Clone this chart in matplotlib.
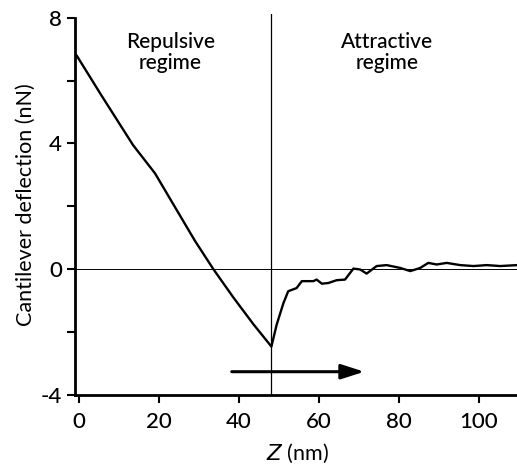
import matplotlib.pyplot as plt
import numpy as np

# repulsive part: linear approach
z_rep = [-0.5, 5.5, 13.5, 19, 29, 33.6, 38.6, 43.6, 48.1]
f_rep = [6.78, 5.55, 3.95, 3.05, 0.9, 0.0, -0.9, -1.75, -2.46]

# attractive part: snap-in and noisy plateau
z_att = [48.1, 49.4, 51.1, 52.3, 54.4, 55.7, 58.6, 59.4, 60.7, 62.3, 64.4, 66.5,
         68.6, 70.3, 71.9, 74.4, 76.9, 80.3, 82.8, 85.3, 87.3, 89.4, 91.9, 95.3,
         98.6, 101.9, 105.3, 109.5]
f_att = [-2.46, -1.77, -1.08, -0.70, -0.60, -0.38, -0.38, -0.33, -0.46, -0.44, -0.35, -0.33,
         0.02, -0.01, -0.14, 0.10, 0.13, 0.04, -0.06, 0.04, 0.20, 0.15, 0.20, 0.13,
         0.10, 0.13, 0.10, 0.13]

x_ticks = [0, 20, 40, 60, 80, 100]
y_ticks = [-4, -2, 0, 2, 4, 6, 8]
y_labels = ['-4', '', '0', '', '4', '', '8']

plt.rcParams['font.family'] = ['Lato', 'DejaVu Sans']

fig = plt.figure(figsize=(5.17, 4.66), dpi=100)
ax = fig.add_axes([0.145, 0.1524, 0.859, 0.8165])

ax.plot(z_rep + z_att[1:], f_rep + f_att[1:], color='black', lw=1.7)
ax.axhline(0, color='black', lw=0.7)
ax.plot([48.1, 48.1], [-4, 8.1], color='black', lw=0.9)

ax.annotate('', xy=(72, -3.26), xytext=(37.5, -3.26),
            arrowprops=dict(arrowstyle='-|>,head_length=1.4,head_width=0.45',
                            color='black', lw=2.2))

ax.text(22.8, 6.9, 'Repulsive\nregime', ha='center', va='center', fontsize=15,
        linespacing=1.05, fontweight='medium')
ax.text(77, 6.9, 'Attractive\nregime', ha='center', va='center', fontsize=15,
        linespacing=1.05, fontweight='medium')

ax.set_xlim(-1, 110)
ax.set_ylim(-4, 8.1)
ax.spines['top'].set_visible(False)
ax.spines['right'].set_visible(False)
ax.spines['left'].set_bounds(-4, 8)
ax.spines['left'].set_linewidth(2)
ax.spines['bottom'].set_linewidth(2)

ax.set_xticks(x_ticks)
ax.set_yticks(y_ticks)
ax.set_yticklabels(y_labels)
ax.tick_params(labelsize=16, width=1.5, length=6, direction='out')
ax.tick_params(axis='x', pad=6)
for lab in ax.get_xticklabels() + ax.get_yticklabels():
    lab.set_fontweight('medium')

ax.set_xlabel('$\\mathit{Z}$ (nm)', fontsize=15.5, labelpad=7)
ax.set_ylabel('Cantilever deflection (nN)', fontsize=15.5, labelpad=3)

plt.savefig('out.png', dpi=100)
